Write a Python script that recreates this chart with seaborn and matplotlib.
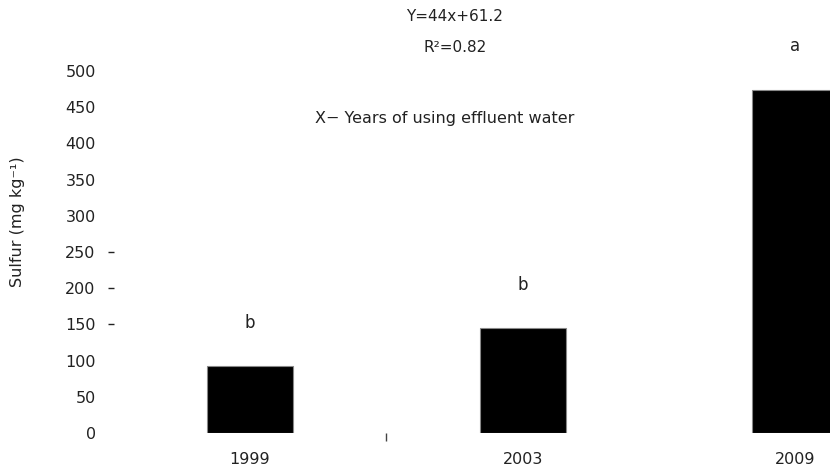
import pandas as pd
import matplotlib.pyplot as plt
import seaborn as sns

# Data
years = ["1999", "2003", "2009"]
sulfur = [92, 145, 474]
letters = ["b", "b", "a"]
y_ticks = [0, 50, 100, 150, 200, 250, 300, 350, 400, 450, 500]

df = pd.DataFrame({"Year": years, "Sulfur": sulfur})

sns.set_style("white")
plt.rcParams["font.family"] = ["DejaVu Sans"]

fig = plt.figure(figsize=(8.3, 4.67), dpi=100)
# axes run past the right edge, as in the cropped original
ax = fig.add_axes([0.137, 0.0728, 0.9855, 0.775])

sns.barplot(data=df, x="Year", y="Sulfur", color="black", width=0.315,
            edgecolor="#888888", linewidth=0.8, saturation=1, ax=ax)

ax.set_xlim(-0.5, 2.5)
ax.set_ylim(0, 500)
ax.set_yticks(y_ticks)
sns.despine(ax=ax, left=True, bottom=True, top=True, right=True)

txt = "#222222"
ax.tick_params(axis="y", labelsize=11.5, colors=txt, direction="out",
               length=4, width=1, pad=9, left=True)
ax.tick_params(axis="x", which="major", labelsize=11.5, colors=txt,
               length=0, pad=14)
# only a few y tick dashes are visible in the original
for t, v in zip(ax.yaxis.get_major_ticks(), y_ticks):
    t.tick1line.set_visible(v in (150, 200, 250))

# lone category divider tick between 1999 and 2003
ax.set_xticks([0.5], minor=True)
ax.tick_params(axis="x", which="minor", bottom=True, length=6, width=1,
               direction="out", color="#444444")

ax.set_xlabel("")
ax.set_ylabel("Sulfur (mg kg⁻¹)", fontsize=11.5, color=txt)
ax.yaxis.set_label_coords(-0.109, 0.583)

for i, (v, lab) in enumerate(zip(sulfur, letters)):
    ax.text(i, v + 60, lab, ha="center", va="center", fontsize=12,
            color=txt, clip_on=False)

ax.text(0.751, 575, "Y=44x+61.2", ha="center", va="center", fontsize=11,
        color=txt, clip_on=False)
ax.text(0.751, 533, "R²=0.82", ha="center", va="center", fontsize=11,
        color=txt, clip_on=False)
ax.text(0.714, 435, "X− Years of using effluent water", ha="center",
        va="center", fontsize=11.5, color=txt, clip_on=False)

fig.savefig("out.png", dpi=100)
